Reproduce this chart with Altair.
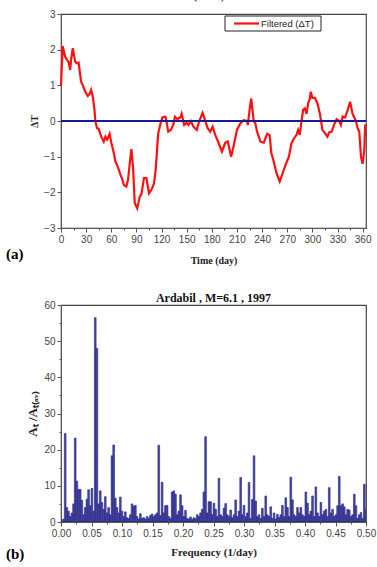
import altair as alt
import pandas as pd

# ---------------- data: panel (a) filtered temperature anomaly ----------------
days = [0, 2, 5, 7, 9, 11, 12, 14, 17, 19, 21, 24, 26, 29, 32, 34, 36, 38, 40, 41,
        43, 45, 48, 51, 53, 55, 56, 58, 60, 63, 65, 68, 71, 73, 75, 78, 80, 82, 84, 86,
        88, 91, 94, 96, 99, 102, 105, 108, 111, 113, 116, 119, 121, 124, 125, 128, 131, 134, 136, 139,
        143, 144, 147, 150, 152, 155, 158, 162, 165, 169, 172, 175, 178, 181, 184, 188, 192, 196, 199, 203,
        206, 210, 214, 218, 222, 223, 225, 227, 230, 232, 234, 238, 242, 246, 249, 251, 254, 257, 261, 264,
        268, 272, 275, 278, 281, 283, 285, 287, 289, 291, 293, 295, 297, 298, 300, 303, 306, 309, 312, 315,
        318, 320, 323, 326, 329, 332, 334, 336, 339, 342, 345, 348, 350, 352, 354, 356, 358, 360, 362, 363]
delta_t = [1.0, 2.1, 1.8, 1.72, 1.66, 1.43, 1.7, 2.04, 1.66, 1.62, 1.64, 1.1, 1.0, 0.82, 0.7, 0.75, 0.87, 0.68, 0.3, 0.0,
           -0.2, -0.22, -0.44, -0.58, -0.44, -0.52, -0.48, -0.36, -0.6, -0.9, -1.14, -1.3, -1.51, -1.62, -1.79, -1.84, -1.65, -1.2, -0.79, -1.3,
           -2.3, -2.45, -2.12, -2.05, -1.6, -1.6, -2.03, -1.93, -1.75, -1.37, -0.34, -0.05, 0.1, 0.12, 0.1, -0.3, -0.25, -0.11, 0.12, 0.05,
           0.12, 0.2, -0.11, -0.05, -0.11, 0.0, -0.16, -0.25, 0.0, 0.23, 0.02, -0.2, -0.3, -0.16, -0.39, -0.61, -0.86, -0.61, -0.57, -1.0,
           -0.7, -0.25, -0.07, 0.02, 0.0, -0.11, 0.3, 0.63, 0.0, -0.07, -0.3, -0.58, -0.61, -0.36, -0.4, -0.9, -1.14, -1.45, -1.7, -1.5,
           -1.23, -1.0, -0.63, -0.49, -0.39, -0.25, -0.39, 0.0, 0.31, 0.35, 0.2, 0.5, 0.63, 0.82, 0.65, 0.65, 0.5, 0.2, -0.25, -0.34,
           -0.44, -0.32, -0.3, -0.1, 0.05, 0.0, -0.11, 0.12, 0.1, 0.3, 0.54, 0.2, 0.1, 0.0, -0.2, -0.3, -1.0, -1.2, -0.8, -0.1]
series_name = "Filtered (\u0394T)"
time_ticks = [0, 15, 30, 45, 60, 75, 90, 105, 120, 135, 150, 165, 180, 195, 210, 225, 240, 255, 270, 285,
              300, 315, 330, 345, 360]
dt_ticks = [-3, -2.5, -2, -1.5, -1, -0.5, 0, 0.5, 1, 1.5, 2, 2.5, 3]

# ---------------- data: panel (b) amplitude spectrum ----------------
n_days = 365
spectrum = [0.3, 0.8, 24.5, 4.0, 3.0, 1.5, 2.5, 5.0, 23.2, 11.3,
            9.0, 9.0, 6.0, 2.0, 4.0, 6.3, 8.9, 4.5, 9.3, 3.0,
            56.5, 48.0, 5.0, 8.6, 5.4, 3.5, 7.0, 2.5, 4.0, 2.0,
            18.3, 21.3, 6.6, 4.0, 2.5, 6.9, 3.0, 1.5, 2.8, 1.2,
            1.0, 2.0, 5.0, 4.4, 4.6, 1.5, 0.8, 2.3, 1.0, 1.2,
            0.8, 1.5, 1.0, 1.8, 2.2, 1.5, 2.0, 2.5, 21.2, 1.8,
            11.0, 2.5, 4.5, 4.6, 1.5, 1.0, 8.3, 8.6, 7.7, 2.0,
            3.0, 7.5, 4.5, 1.5, 3.2, 1.0, 0.8, 1.4, 0.7, 1.2,
            0.9, 2.0, 1.5, 2.5, 3.5, 8.3, 23.6, 2.5, 5.6, 5.6,
            2.0, 5.2, 3.5, 1.5, 12.1, 2.0, 1.5, 3.8, 5.1, 2.0,
            1.5, 3.3, 1.2, 2.0, 6.1, 1.5, 3.0, 12.3, 2.0, 4.6,
            1.5, 2.5, 10.9, 1.0, 6.2, 18.3, 5.8, 1.5, 2.0, 1.0,
            3.8, 1.5, 7.2, 2.0, 1.5, 4.2, 1.0, 2.5, 0.8, 2.1,
            1.2, 2.0, 4.6, 1.5, 6.7, 4.0, 1.5, 12.4, 6.1, 2.0,
            1.5, 4.0, 2.5, 4.0, 2.0, 1.5, 8.3, 5.2, 2.0, 3.0,
            7.2, 1.5, 9.7, 2.5, 1.5, 5.4, 2.0, 3.0, 3.5, 1.5,
            9.5, 2.5, 3.5, 1.5, 2.0, 4.5, 12.6, 4.5, 5.0, 4.2,
            2.0, 3.5, 3.3, 1.5, 2.0, 7.7, 4.5, 1.0, 2.0, 2.6,
            1.0, 10.4, 3.5]
freq_ticks = [0.0, 0.025, 0.05, 0.075, 0.10, 0.125, 0.15, 0.175, 0.20, 0.225, 0.25, 0.275, 0.30,
              0.325, 0.35, 0.375, 0.40, 0.425, 0.45, 0.475, 0.50]
amp_ticks = [0, 5, 10, 15, 20, 25, 30, 35, 40, 45, 50, 55, 60]

# ---------------- frames ----------------
df_a = pd.DataFrame({"day": days, "dT": delta_t, "series": series_name})
df_zero = pd.DataFrame({"day": [0, 364], "dT": [0, 0]})
df_b = pd.DataFrame({"k": list(range(len(spectrum))), "amp": spectrum})
df_b["f"] = df_b["k"] / n_days
df_b["f2"] = (df_b["k"] + 1) / n_days

W = 305
H_A = 214
H_B = 217

LBL_FONT = "Liberation Sans"
SERIF = "Liberation Serif"
AX = "#555555"


def axis(values, title, major_test, fmt=None, title_size=10, title_pad=4):
    kw = dict(
        values=values, tickColor=AX, domainColor=AX, labelFont=LBL_FONT,
        labelFontSize=10, labelColor="#444444", grid=False, labelPadding=2,
        labelFlush=False, labelOverlap=False,
        tickSize={"condition": {"test": major_test, "value": 4}, "value": 2},
        labelExpr="(" + major_test + ") ? datum.label : ''",
        title=title, titleFont=SERIF, titleFontWeight="bold", titleFontSize=title_size,
        titleColor="#222222", titlePadding=title_pad,
    )
    if fmt:
        kw.update(format=fmt)
    return alt.Axis(**kw)


xs_a = alt.Scale(domain=[0, 364], nice=False, zero=False)
ys_a = alt.Scale(domain=[-3, 3], nice=False)
x_axis_a = axis(time_ticks, "Time  (day)", "datum.value % 30 == 0", "d", title_pad=11)
y_axis_a = axis(dt_ticks, "\u0394T", "datum.value % 1 == 0", "d")

line_a = alt.Chart(df_a).mark_line(color="#ff1010", strokeWidth=2.2).encode(
    x=alt.X("day:Q", scale=xs_a, axis=x_axis_a),
    y=alt.Y("dT:Q", scale=ys_a, axis=y_axis_a),
)
zero_a = alt.Chart(df_zero).mark_line(color="#1a1a8c", strokeWidth=2).encode(
    x=alt.X("day:Q", scale=xs_a, axis=x_axis_a),
    y=alt.Y("dT:Q", scale=ys_a, axis=y_axis_a),
)
leg_df = pd.DataFrame({"label": [series_name]})
leg_box = alt.Chart(leg_df).mark_rect(fill="white", stroke="#222222", strokeWidth=1).encode(
    x=alt.value(164), x2=alt.value(260), y=alt.value(2), y2=alt.value(17)
)
leg_line = alt.Chart(leg_df).mark_rule(color="#ff1010", strokeWidth=2.2).encode(
    x=alt.value(173), x2=alt.value(198), y=alt.value(9.5)
)
leg_text = alt.Chart(leg_df).mark_text(align="left", baseline="middle", font=LBL_FONT,
                                       fontSize=9.5, color="#222222").encode(
    x=alt.value(200), y=alt.value(9.5), text="label:N"
)
lab_a = alt.Chart(leg_df).mark_text(text="(a)", font=SERIF, fontWeight="bold", fontSize=15,
                                    align="left", baseline="middle", color="black").encode(
    x=alt.value(-55), y=alt.value(240)
)

chart_a = alt.layer(line_a, zero_a, leg_box, leg_line, leg_text, lab_a).properties(
    width=W, height=H_A,
    title=alt.TitleParams("Ardabil (1997)", font=SERIF, fontWeight="bold", fontSize=12,
                          color="#111111", anchor="middle", dx=-26, offset=7),
)

xs_b = alt.Scale(domain=[0, 0.5], nice=False, zero=False)
ys_b = alt.Scale(domain=[0, 60], nice=False)

bars_b = alt.Chart(df_b).mark_bar(fill="#4b4ba3", stroke="#1e1e80", strokeWidth=0.6, clip=True).encode(
    x=alt.X("f:Q", scale=xs_b,
            axis=axis(freq_ticks, "Frequency (1/day)",
                      "abs(datum.value * 20 - round(datum.value * 20)) < 0.001", ".2f", 11,
                      title_pad=8)),
    x2="f2:Q",
    y=alt.Y("amp:Q", scale=ys_b,
            axis=axis(amp_ticks, "A\u209c /A\u209c\u208d\u2090\u1d65\u208e", "datum.value % 10 == 0",
                      title_size=13)),
    y2=alt.datum(0),
)
lab_b = alt.Chart(leg_df).mark_text(text="(b)", font=SERIF, fontWeight="bold", fontSize=15,
                                    align="left", baseline="middle", color="black").encode(
    x=alt.value(-55), y=alt.value(249)
)
chart_b = alt.layer(bars_b, lab_b).properties(
    width=W, height=H_B,
    title=alt.TitleParams("Ardabil , M=6.1 , 1997", font=SERIF, fontWeight="bold", fontSize=12,
                          color="#111111", anchor="middle", offset=-5),
)

chart = alt.vconcat(chart_a, chart_b, spacing=25).properties(
    padding={"left": 5, "top": -12, "right": 0, "bottom": 3}
).configure_view(stroke="#444444", strokeWidth=1.2)

chart.save("out.html", embed_options={"renderer": "svg", "actions": False})
